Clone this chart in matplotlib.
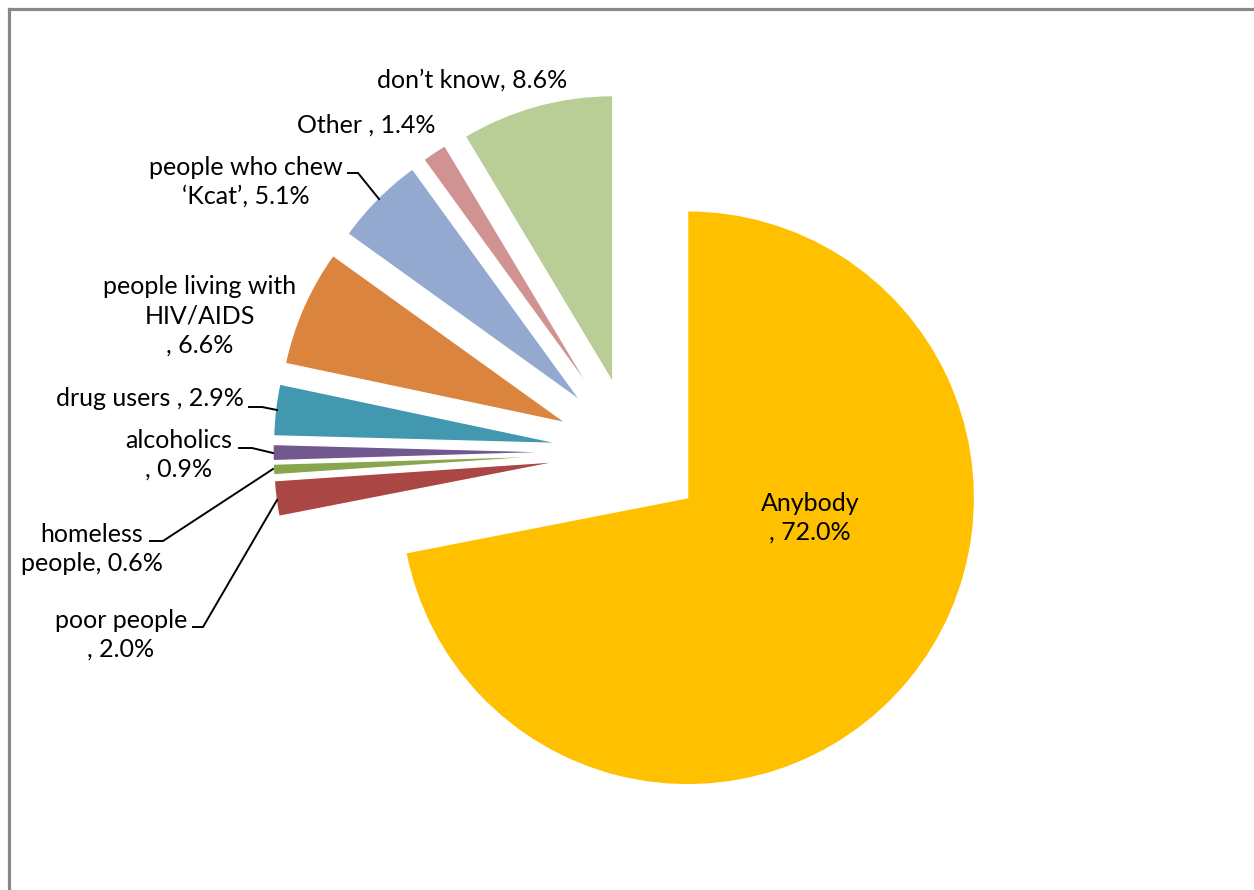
import matplotlib.pyplot as plt

# data (clockwise from 12 o'clock)
labels = ["Anybody", "poor people", "homeless people", "alcoholics", "drug users",
          "people living with HIV/AIDS", "people who chew \u2018Kcat\u2019", "Other", "don\u2019t know"]
values = [72.0, 2.0, 0.6, 0.9, 2.9, 6.6, 5.1, 1.4, 8.6]
colors = ["#FFC000", "#AA4643", "#89A54E", "#71588F", "#4198AF",
          "#DB843D", "#93A9CF", "#D19392", "#B9CD96"]
label_text = ["Anybody\n, 72.0%", "poor people\n, 2.0%", "homeless\npeople, 0.6%",
              "alcoholics\n, 0.9%", "drug users , 2.9%",
              "people living with\nHIV/AIDS\n, 6.6%", "people who chew\n\u2018Kcat\u2019, 5.1%",
              "Other , 1.4%", "don\u2019t know, 8.6%"]

W, H = 1254, 890
fig = plt.figure(figsize=(W / 100, H / 100), dpi=100)
ax = fig.add_axes([0, 0, 1, 1])


def py(y):
    # image pixel row -> data y
    return H - y


# explode is an absolute offset in data units (pixels here)
ax.pie(values, colors=colors, startangle=90, counterclock=False,
       center=(632, py(452)), radius=287, explode=[72] * len(values),
       wedgeprops=dict(edgecolor="white", linewidth=1.0), frame=False)
ax.set_xlim(0, W)
ax.set_ylim(0, H)
ax.set_aspect("equal")
ax.axis("off")

font = dict(family=["Lato", "DejaVu Sans"], fontsize=18, color="black",
            ha="center", va="center", linespacing=1.32)

label_pos = [(810, 518), (121, 635), (92, 549), (179, 455), (150, 398),
             (200, 316), (246, 182), (366, 125), (472, 80)]
for txt, (x, y) in zip(label_text, label_pos):
    ax.text(x, py(y), txt, **font)

# leader lines
leaders = [
    [(193, 627), (203, 627), (277, 500)],   # poor people
    [(150, 541), (163, 541), (273, 469)],   # homeless
    [(239, 448), (252, 448), (273, 453)],   # alcoholics
    [(249, 407), (262, 407), (277, 410)],   # drug users
    [(348, 173), (358, 173), (379, 199)],   # Kcat
]
for pts in leaders:
    ax.plot([p[0] for p in pts], [py(p[1]) for p in pts], color="black", lw=1.4,
            solid_joinstyle="miter")

# chart area border (left and top visible)
ax.plot([9, 9], [py(9), py(H + 5)], color="#888888", lw=2.3, clip_on=False)
ax.plot([9, W + 5], [py(9), py(9)], color="#888888", lw=2.3, clip_on=False)

fig.savefig("out.png", dpi=100, facecolor="white")
